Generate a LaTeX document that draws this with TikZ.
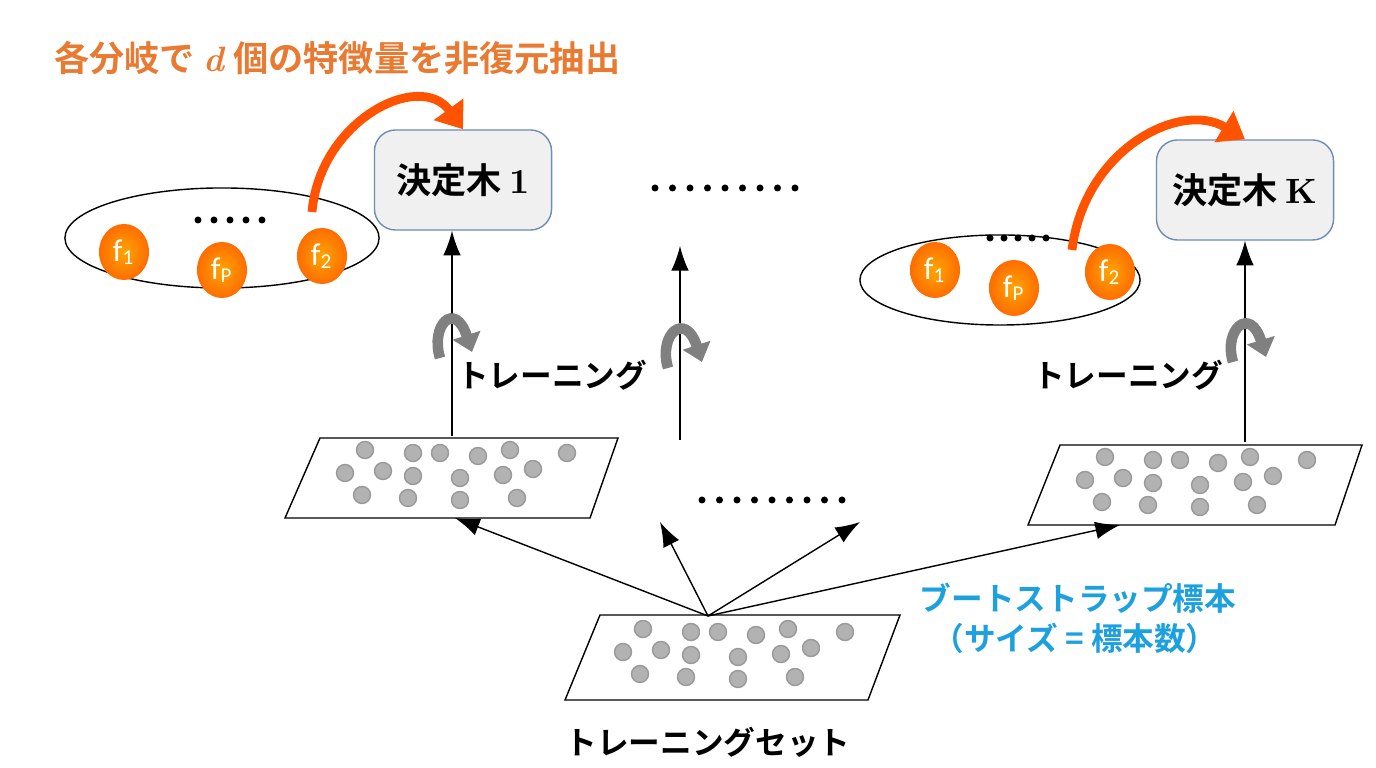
\documentclass[tikz,border=0pt]{standalone}
\usepackage{fontspec}
\newfontfamily\jp{Noto Sans CJK JP}[BoldFont={Noto Sans CJK JP Bold}]
\setsansfont{Carlito}
\usetikzlibrary{arrows.meta,shapes.geometric}
\definecolor{titleorange}{RGB}{232,122,50}
\definecolor{bsblue}{RGB}{28,160,222}
\definecolor{boxline}{RGB}{110,140,180}
\tikzset{
  tree/.style={draw=boxline,fill=gray!12,rounded corners=6pt,minimum width=1.77cm,minimum height=1cm,font=\jp\bfseries},
  feat/.style={ellipse,shading=radial,inner color=orange!70!yellow,outer color=orange!85!red,draw=none,minimum width=0.5cm,minimum height=0.56cm,inner sep=0pt,text=white,font=\sffamily\small},
  bag/.style={ellipse,draw,thin},
  set/.style={draw,thin,fill=white},
  pt/.style={fill=gray!60,draw=gray!80},
  up/.style={-{Latex[length=7pt,width=5pt]},thin},
  pick/.style={draw=red!75!black,line width=2.5pt,-{Triangle[length=7pt,width=10pt]},color=orange!65!red},
  spin/.style={draw=gray,line width=3pt,-{Triangle[length=5pt,width=8pt]}},
  lbl/.style={font=\jp\bfseries\small}
}
\newcommand{\sample}{%
  \foreach \px/\py in {45/12,93/15,120/15,158/18,190/12,247/15,
                       25/35,63/33,93/38,140/40,183/37,213/31,
                       42/57,88/60,140/62,197/60}
    {\fill[pt] (\px,\py) circle (8.5);}}
% row of dots: start x, y, count, step
\newcommand{\dotrow}[4]{\foreach \k in {1,...,#3}{\fill (#1+\k*#4-#4,#2) circle (3.5);}}
\begin{document}
\begin{tikzpicture}[x=0.01cm,y=-0.01cm]
\useasboundingbox (0,0) rectangle (1376,768);
% title
\node[anchor=west,text=titleorange,font=\jp\bfseries] (title) at (42,58)
  {各分岐で \textit{\rmfamily d} 個の特徴量を非復元抽出};
% trees
\node[tree] (t1) at (463,180) {決定木 {\rmfamily 1}};
\node[tree] (tk) at (1245,190) {決定木 {\rmfamily K}};
% feature bags
\node[bag,minimum width=3.14cm,minimum height=1cm] (bag1) at (222,238) {};
\node[feat] (a1) at (124,252) {f\textsubscript{1}};
\node[feat] (ap) at (222,270) {f\textsubscript{P}};
\node[feat] (a2) at (322,256) {f\textsubscript{2}};
\dotrow{198}{220}{5}{16}
\node[bag,minimum width=2.8cm,minimum height=0.9cm] (bag2) at (1000,280) {};
\node[feat] (b1) at (935,270) {f\textsubscript{1}};
\node[feat] (bp) at (1014,288) {f\textsubscript{P}};
\node[feat] (b2) at (1110,272) {f\textsubscript{2}};
\dotrow{990}{238}{5}{14}
\draw[pick] (312,212) .. controls (320,120) and (420,70) .. (t1.north);
\draw[pick] (1072,250) .. controls (1084,150) and (1180,100) .. (tk.north);
% dots between
\dotrow{655}{188}{9}{17.5}
\dotrow{702}{500}{9}{17.5}
% training sets
\draw[set] (320,438) -- (618,438) -- (590,518) -- (285,518) -- cycle;
\draw[set] (1060,445) -- (1362,445) -- (1335,525) -- (1028,525) -- cycle;
\draw[set] (600,615) -- (900,615) -- (868,700) -- (565,700) -- cycle;
\begin{scope}[shift={(320,438)}]\sample\end{scope}
\begin{scope}[shift={(1060,445)}]\sample\end{scope}
\begin{scope}[shift={(598,617)}]\sample\end{scope}
\coordinate (s1) at (452,436);
\coordinate (sm) at (680,440);
\coordinate (sk) at (1245,442);
\coordinate (src) at (708,616);
\coordinate (m1) at (680,246);
% arrows
\draw[up] (s1) -- (t1.south -| s1);
\draw[up] (sm) -- (m1);
\draw[up] (sk) -- (tk.south -| sk);
\draw[up] (src) -- (455,518);
\draw[up] (src) -- (660,522);
\draw[up] (src) -- (860,522);
\draw[up] (src) -- (1120,525);
% training spin
\draw[spin] (440,358) .. controls (430,325) and (455,300) .. (472,352);
\draw[spin] (668,368) .. controls (658,335) and (685,310) .. (702,362);
\draw[spin] (1233,362) .. controls (1223,330) and (1250,305) .. (1266,357);
% labels
\node[lbl] (tr1) at (552,375) {トレーニング};
\node[lbl] (trk) at (1128,375) {トレーニング};
\node[lbl,text=bsblue] (bs1) at (1078,598) {ブートストラップ標本};
\node[lbl,text=bsblue] (bs2) at (1075,638) {（サイズ = 標本数）};
\node[lbl] (tset) at (708,742) {トレーニングセット};
\end{tikzpicture}
\end{document}
